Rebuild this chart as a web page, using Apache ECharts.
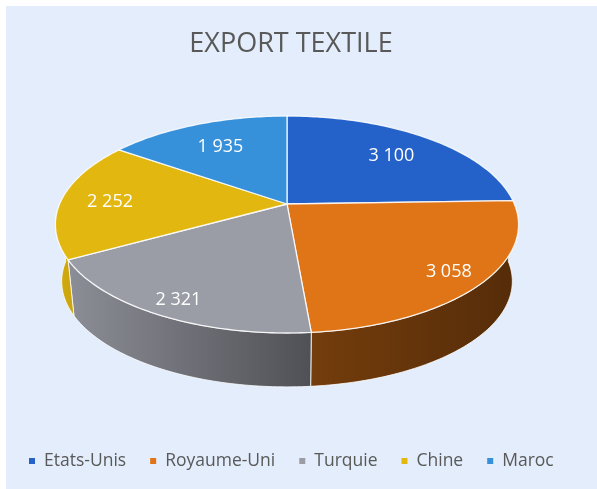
<!DOCTYPE html>
<html>
<head>
<meta charset="utf-8">
<script src="https://cdn.jsdelivr.net/npm/echarts@6/dist/echarts.min.js"></script>
<style>
    html, body { margin: 0; padding: 0; background: #fff; }
    #chart { position: absolute; left: 6px; top: 6px; width: 591px; height: 483px; }
</style>
</head>
<body>
<div id="chart"></div>
<script>
// ---------------- DATA ----------------
const countries = ['Etats-Unis', 'Royaume-Uni', 'Turquie', 'Chine', 'Maroc'];
const exportValues = [3100, 3058, 2321, 2252, 1935];
const sliceColors = ['#2461c9', '#e07518', '#9a9ca6', '#e2b710', '#3690da'];

const total = exportValues.reduce((a, b) => a + b, 0);

// ---------------- 3D PROJECTION ----------------
// top disk, seen in perspective
const cx = 281, cy = 198, rx = 227.4, ry = 104.6, persp = 0.189;
// bottom disk = top disk pulled toward a far vanishing point
const vx = 281, vy = 2324, depthScale = 0.973;

function proj(deg, r) {
    let t = deg * Math.PI / 180;
    let u = r * Math.cos(t), v = r * Math.sin(t);
    let d = 1 - persp * v;
    return [cx + rx * u / d, cy + ry * v / d];
}

function down(pt) {
    return [vx + depthScale * (pt[0] - vx), vy + depthScale * (pt[1] - vy)];
}

function arc(a0, a1) {
    let pts = [];
    let n = Math.max(2, Math.ceil(Math.abs(a1 - a0)));
    for (let k = 0; k <= n; k++) pts.push(proj(a0 + (a1 - a0) * k / n, 1));
    return pts;
}

function shade(hex, f) {
    let n = parseInt(hex.slice(1), 16);
    let r = Math.round(((n >> 16) & 255) * f);
    let g = Math.round(((n >> 8) & 255) * f);
    let b = Math.round((n & 255) * f);
    return 'rgb(' + r + ',' + g + ',' + b + ')';
}

function fmt(v) {
    return String(v).replace(/\B(?=(\d{3})+(?!\d))/g, ' ');
}

function renderSlice(params, api) {
    let i = params.seriesIndex;
    let before = exportValues.slice(0, i).reduce((a, b) => a + b, 0);
    let value = api.value(0);
    let a0 = -90 + before / total * 360;
    let a1 = a0 + value / total * 360;
    let color = sliceColors[i];
    let children = [];

    // side wall (front half only)
    let w0 = Math.max(a0, 0), w1 = Math.min(a1, 180);
    if (w1 > w0) {
        let top = arc(w0, w1);
        let bottom = top.map(down).reverse();
        children.push({
            type: 'polygon',
            z2: 1,
            shape: { points: top.concat(bottom) },
            style: {
                fill: new echarts.graphic.LinearGradient(cx - rx - 4, 0, cx + rx + 4, 0, [
                    { offset: 0, color: shade(color, 0.93) },
                    { offset: 0.55, color: shade(color, 0.52) },
                    { offset: 1, color: shade(color, 0.38) }
                ], true),
                stroke: 'rgba(255,255,255,0.8)',
                lineWidth: 1
            }
        });
    }

    // top face
    children.push({
        type: 'polygon',
        z2: 10,
        shape: { points: [proj(0, 0)].concat(arc(a0, a1)) },
        style: { fill: color, stroke: 'rgba(255,255,255,0.85)', lineWidth: 1.3 }
    });

    // value label
    let mid = (a0 + a1) / 2;
    let lp = proj(mid, 0.79 + 0.09 * Math.sin(mid * Math.PI / 180));
    children.push({
        type: 'text',
        z2: 20,
        style: {
            text: fmt(value),
            x: lp[0],
            y: lp[1] + 2,
            fill: '#ffffff',
            fontSize: 18,
            fontFamily: 'Open Sans',
            align: 'center',
            verticalAlign: 'middle'
        }
    });

    return { type: 'group', children: children };
}

// ---------------- CHART ----------------
let chart = echarts.init(document.getElementById('chart'));

chart.setOption({
    animation: false,
    backgroundColor: '#e3edfb',
    title: {
        text: 'EXPORT TEXTILE',
        left: 280,
        textAlign: 'center',
        top: 20,
        textStyle: { fontFamily: 'Open Sans', fontSize: 27, fontWeight: 'normal', color: '#595959' }
    },
    legend: {
        left: 18,
        top: 441,
        icon: 'rect',
        itemWidth: 6,
        itemHeight: 6,
        itemGap: 24,
        textStyle: { fontFamily: 'Open Sans', fontSize: 17.5, color: '#595959', padding: [0, 0, 0, 4] },
        data: countries
    },
    series: countries.map((name, i) => ({
        type: 'custom',
        name: name,
        coordinateSystem: 'none',
        itemStyle: { color: sliceColors[i] },
        renderItem: renderSlice,
        data: [[exportValues[i]]]
    }))
});
</script>
</body>
</html>
